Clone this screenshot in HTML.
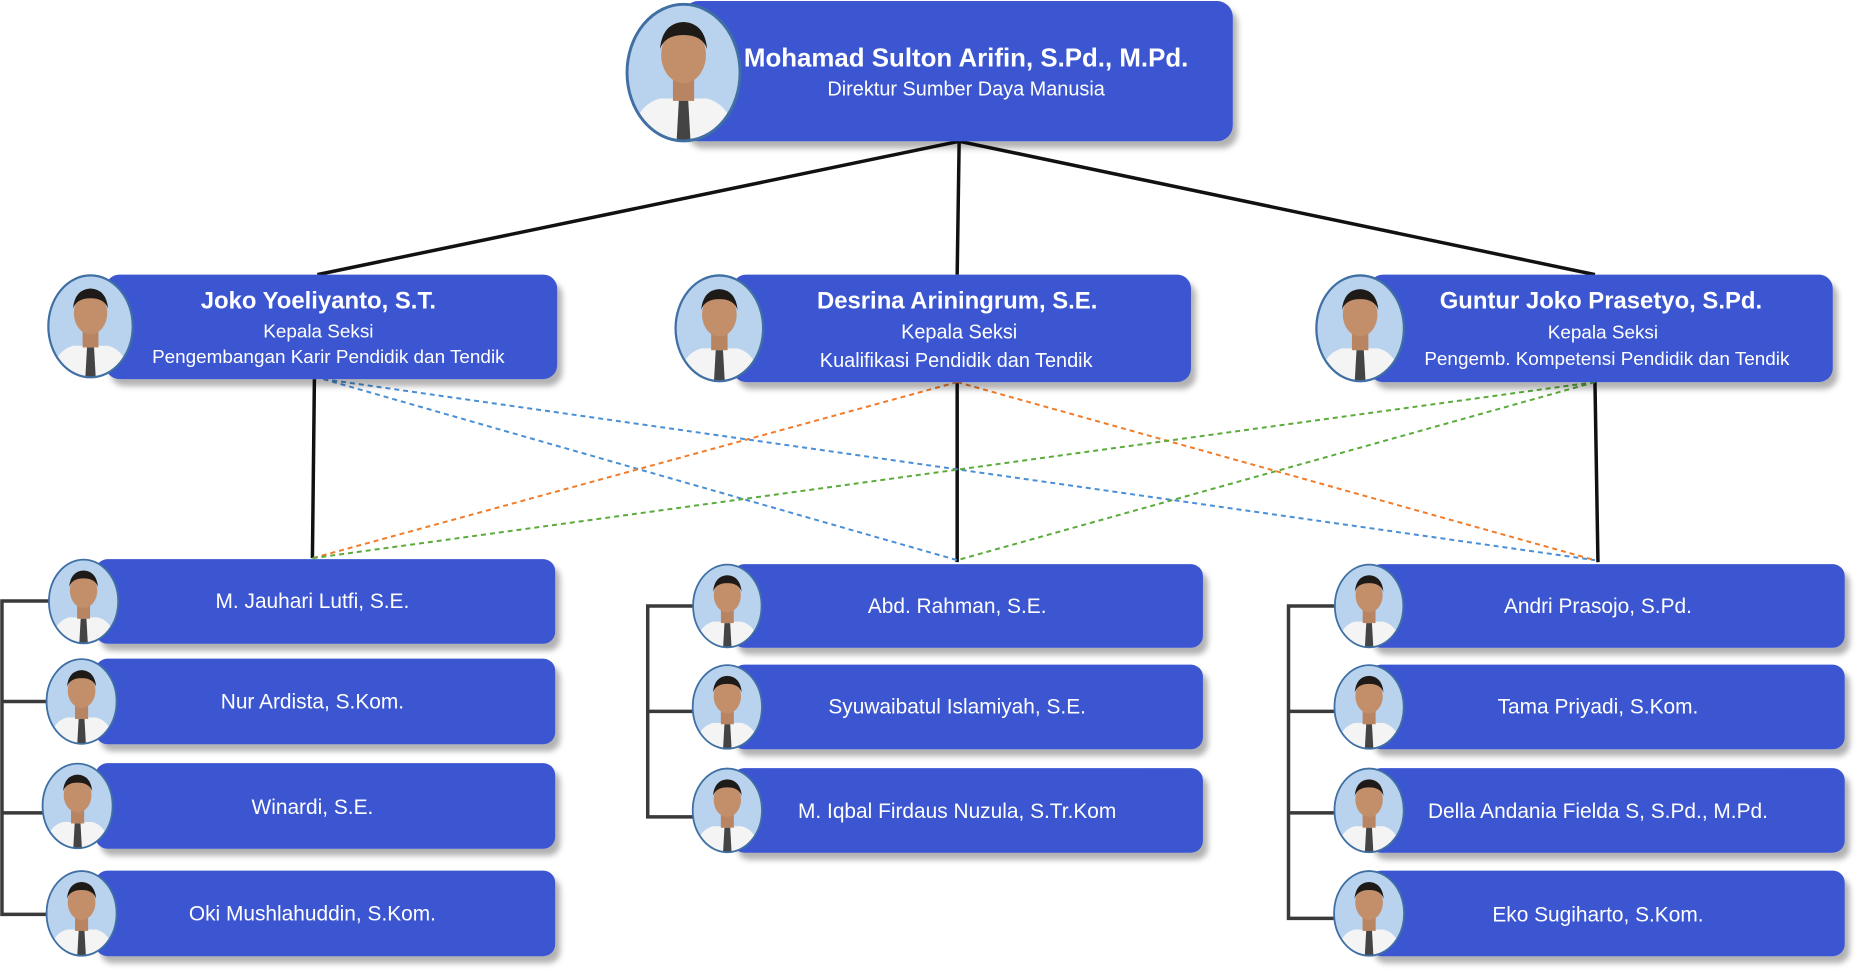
<!DOCTYPE html>
<html><head><meta charset="utf-8"><style>
html,body{margin:0;padding:0;background:#fff;}
svg{display:block;font-family:"Liberation Sans",sans-serif;}
</style></head><body>
<svg width="1864" height="979" viewBox="0 0 1864 979" xmlns="http://www.w3.org/2000/svg">
<defs>
<filter id="sh" x="-5%" y="-10%" width="115%" height="135%"><feDropShadow dx="5" dy="7" stdDeviation="3" flood-color="#000" flood-opacity="0.3"/></filter>
<symbol id="ph" viewBox="0 0 100 120">
<clipPath id="pc"><ellipse cx="50" cy="60" rx="48" ry="58"/></clipPath>
<g clip-path="url(#pc)">
<rect width="100" height="120" fill="#b9d3ee"/>
<path d="M5 120 Q8 88 30 82 L70 82 Q92 88 95 120 Z" fill="#f4f4f4"/>
<rect x="41" y="64" width="18" height="20" fill="#b88462"/>
<ellipse cx="50" cy="45" rx="19" ry="24" fill="#c38f6b"/>
<path d="M30 40 Q32 18 50 17 Q68 18 70 40 Q66 28 50 28 Q34 28 30 40Z" fill="#1e1a18"/>
<path d="M46 84 L54 84 L56 120 L44 120Z" fill="#444"/>
</g>
<ellipse cx="50" cy="60" rx="48" ry="58" fill="none" stroke="#3f6fa3" stroke-width="2.5"/>
</symbol>
</defs>
<g transform="translate(-4,-1) scale(0.995)">
<!-- connectors -->
<g stroke="#111" stroke-width="3.5" fill="none">
<line x1="968" y1="143" x2="323" y2="277"/>
<line x1="968" y1="143" x2="966" y2="277"/>
<line x1="968" y1="143" x2="1607" y2="277"/>
<line x1="320" y1="382" x2="318" y2="562"/>
<line x1="966" y1="385" x2="966" y2="566"/>
<line x1="1607" y1="385" x2="1610" y2="566"/>
</g>
<g stroke="#3a3a3a" stroke-width="3.5" fill="none">
<polyline points="60,605 6,605 6,920 60,920"/>
<line x1="6" y1="706" x2="60" y2="706"/>
<line x1="6" y1="818" x2="60" y2="818"/>
<polyline points="700,610 655,610 655,822 700,822"/>
<line x1="655" y1="716" x2="700" y2="716"/>
<polyline points="1345,610 1299,610 1299,924 1345,924"/>
<line x1="1299" y1="716" x2="1345" y2="716"/>
<line x1="1299" y1="818" x2="1345" y2="818"/>
</g>
<g stroke-width="2" fill="none" stroke-dasharray="5,4">
<line x1="329" y1="382" x2="966" y2="564" stroke="#4a8fd6"/>
<line x1="329" y1="382" x2="1607" y2="564" stroke="#4a8fd6"/>
<line x1="966" y1="385" x2="318" y2="562" stroke="#f07c2a"/>
<line x1="966" y1="385" x2="1607" y2="564" stroke="#f07c2a"/>
<line x1="1607" y1="385" x2="318" y2="562" stroke="#5aab3a"/>
<line x1="1607" y1="385" x2="966" y2="564" stroke="#5aab3a"/>
</g>

<!-- boxes -->
<g fill="#3b57d0" filter="url(#sh)">
<rect x="690" y="2" width="553" height="141" rx="16"/>
<rect x="110" y="277" width="454" height="105" rx="14"/>
<rect x="740" y="277" width="461" height="108" rx="14"/>
<rect x="1380" y="277" width="466" height="108" rx="14"/>
<rect x="100" y="563" width="462" height="85" rx="12"/>
<rect x="100" y="663" width="462" height="86" rx="12"/>
<rect x="100" y="768" width="462" height="86" rx="12"/>
<rect x="100" y="876" width="462" height="86" rx="12"/>
<rect x="740" y="568" width="473" height="84" rx="12"/>
<rect x="740" y="669" width="473" height="85" rx="12"/>
<rect x="740" y="773" width="473" height="85" rx="12"/>
<rect x="1380" y="568" width="478" height="84" rx="12"/>
<rect x="1380" y="669" width="478" height="85" rx="12"/>
<rect x="1380" y="773" width="478" height="85" rx="12"/>
<rect x="1380" y="876" width="478" height="86" rx="12"/>
</g>

<!-- photos -->
<use href="#ph" x="627" y="3" width="128" height="142"/>
<use href="#ph" x="44" y="276" width="102" height="106"/>
<use href="#ph" x="675" y="276" width="104" height="110"/>
<use href="#ph" x="1319" y="276" width="104" height="110"/>
<use href="#ph" x="50" y="562" width="76" height="87"/>
<use href="#ph" x="48" y="662" width="76" height="88"/>
<use href="#ph" x="44" y="767" width="76" height="88"/>
<use href="#ph" x="48" y="875" width="76" height="88"/>
<use href="#ph" x="694" y="567" width="82" height="86"/>
<use href="#ph" x="694" y="668" width="82" height="87"/>
<use href="#ph" x="694" y="772" width="82" height="87"/>
<use href="#ph" x="1338" y="567" width="84" height="86"/>
<use href="#ph" x="1338" y="668" width="84" height="87"/>
<use href="#ph" x="1338" y="772" width="84" height="87"/>
<use href="#ph" x="1338" y="875" width="84" height="88"/>

<!-- text -->
<g fill="#fff" text-anchor="middle">
<text x="975" y="68" font-size="26" font-weight="bold">Mohamad Sulton Arifin, S.Pd., M.Pd.</text>
<text x="975" y="97" font-size="20">Direktur Sumber Daya Manusia</text>

<text x="324" y="311" font-size="24" font-weight="bold">Joko Yoeliyanto, S.T.</text>
<text x="324" y="340" font-size="19">Kepala Seksi</text>
<text x="334" y="366" font-size="19">Pengembangan Karir Pendidik dan Tendik</text>

<text x="966" y="311" font-size="24" font-weight="bold">Desrina Ariningrum, S.E.</text>
<text x="968" y="341" font-size="20">Kepala Seksi</text>
<text x="965" y="370" font-size="20">Kualifikasi Pendidik dan Tendik</text>

<text x="1613" y="311" font-size="24" font-weight="bold">Guntur Joko Prasetyo, S.Pd.</text>
<text x="1615" y="341" font-size="19">Kepala Seksi</text>
<text x="1619" y="368" font-size="19">Pengemb. Kompetensi Pendidik dan Tendik</text>

<g font-size="21">
<text x="318" y="612">M. Jauhari Lutfi, S.E.</text>
<text x="318" y="713">Nur Ardista, S.Kom.</text>
<text x="318" y="819">Winardi, S.E.</text>
<text x="318" y="926">Oki Mushlahuddin, S.Kom.</text>
<text x="966" y="617">Abd. Rahman, S.E.</text>
<text x="966" y="718">Syuwaibatul Islamiyah, S.E.</text>
<text x="966" y="823">M. Iqbal Firdaus Nuzula, S.Tr.Kom</text>
<text x="1610" y="617">Andri Prasojo, S.Pd.</text>
<text x="1610" y="718">Tama Priyadi, S.Kom.</text>
<text x="1610" y="823">Della Andania Fielda S, S.Pd., M.Pd.</text>
<text x="1610" y="927">Eko Sugiharto, S.Kom.</text>
</g>
</g>
</g>
</svg>
</body></html>
